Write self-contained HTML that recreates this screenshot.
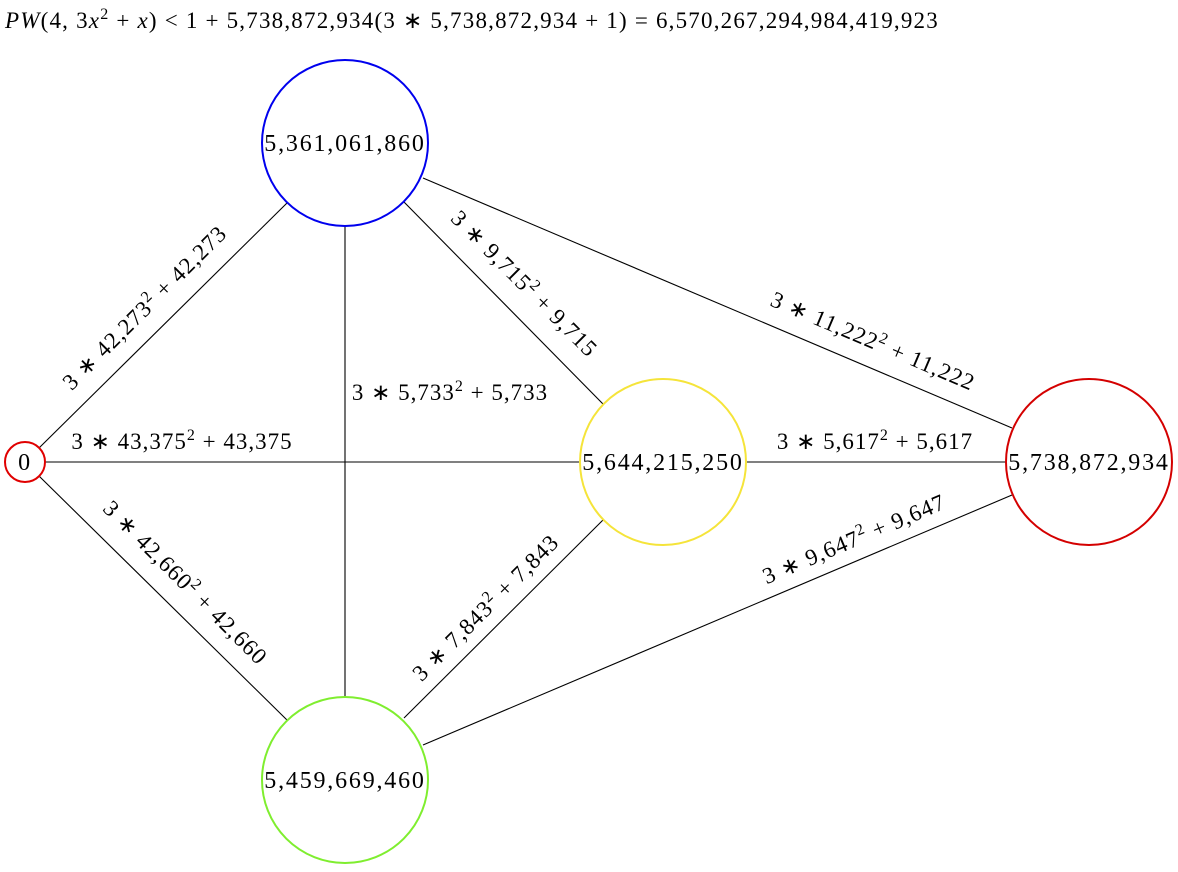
<!DOCTYPE html>
<html><head><meta charset="utf-8"><style>
html,body{margin:0;padding:0;background:#fff;}
svg{display:block;}
text{font-family:"Liberation Serif",serif;font-size:23px;fill:#000;letter-spacing:1px;}
.n{font-size:24px;letter-spacing:1.8px;}
</style></head><body>
<svg width="1178" height="872" viewBox="0 0 1178 872" xmlns="http://www.w3.org/2000/svg">
<text x="5" y="28" style="letter-spacing:1.2px"><tspan font-style="italic">PW</tspan>(4, 3<tspan font-style="italic">x</tspan><tspan font-size="16" dy="-9">2</tspan><tspan dy="9"> + </tspan><tspan font-style="italic">x</tspan>) &lt; 1 + 5,738,872,934(3 ∗ 5,738,872,934 + 1) = 6,570,267,294,984,419,923</text>
<g stroke="#000" stroke-width="1.1" fill="none">
<line x1="39" y1="448" x2="287" y2="203"/>
<line x1="45" y1="462" x2="580" y2="462"/>
<line x1="39" y1="476" x2="287" y2="720"/>
<line x1="345" y1="226" x2="345" y2="697"/>
<line x1="404" y1="202" x2="603" y2="404"/>
<line x1="423" y1="178" x2="1012" y2="428"/>
<line x1="746" y1="462" x2="1006" y2="462"/>
<line x1="603" y1="520" x2="404" y2="718"/>
<line x1="423" y1="745" x2="1012" y2="495"/>
</g>
<circle cx="25" cy="462" r="20" fill="#fff" stroke="#e00000" stroke-width="2"/>
<circle cx="345" cy="143" r="83" fill="#fff" stroke="#0000ee" stroke-width="2"/>
<circle cx="663" cy="462" r="83" fill="#fff" stroke="#f5e43a" stroke-width="2"/>
<circle cx="1089" cy="462" r="83" fill="#fff" stroke="#d40000" stroke-width="2"/>
<circle cx="345" cy="780" r="83" fill="#fff" stroke="#7fee2f" stroke-width="2"/>
<g text-anchor="middle">
<text class="n" x="25" y="470">0</text>
<text class="n" x="345" y="151">5,361,061,860</text>
<text class="n" x="663" y="470">5,644,215,250</text>
<text class="n" x="1089" y="470">5,738,872,934</text>
<text class="n" x="345" y="788">5,459,669,460</text>
<text transform="translate(150,313) rotate(-45)">3 ∗ 42,273<tspan font-size="16" dy="-9">2</tspan><tspan dy="9"> + 42,273</tspan></text>
<text x="450" y="400">3 ∗ 5,733<tspan font-size="16" dy="-9">2</tspan><tspan dy="9"> + 5,733</tspan></text>
<text x="182" y="449">3 ∗ 43,375<tspan font-size="16" dy="-9">2</tspan><tspan dy="9"> + 43,375</tspan></text>
<text transform="translate(180,588) rotate(45)">3 ∗ 42,660<tspan font-size="16" dy="-9">2</tspan><tspan dy="9"> + 42,660</tspan></text>
<text transform="translate(519,289) rotate(45)">3 ∗ 9,715<tspan font-size="16" dy="-9">2</tspan><tspan dy="9"> + 9,715</tspan></text>
<text transform="translate(870,348) rotate(23)">3 ∗ 11,222<tspan font-size="16" dy="-9">2</tspan><tspan dy="9"> + 11,222</tspan></text>
<text x="875" y="449">3 ∗ 5,617<tspan font-size="16" dy="-9">2</tspan><tspan dy="9"> + 5,617</tspan></text>
<text transform="translate(857,546) rotate(-23)">3 ∗ 9,647<tspan font-size="16" dy="-9">2</tspan><tspan dy="9"> + 9,647</tspan></text>
<text transform="translate(491,613) rotate(-45)">3 ∗ 7,843<tspan font-size="16" dy="-9">2</tspan><tspan dy="9"> + 7,843</tspan></text>
</g>
</svg>
</body></html>
